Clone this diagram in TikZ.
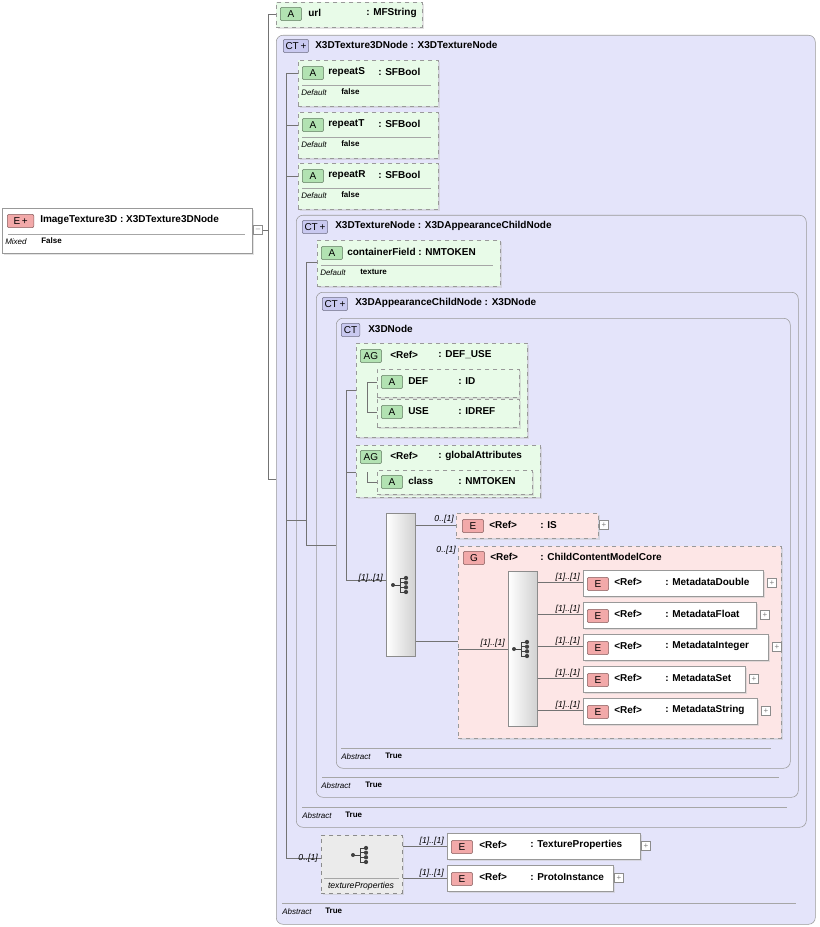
\documentclass[tikz,border=0pt]{standalone}
\usepackage{fontspec}
\setmainfont{Liberation Sans}
\usetikzlibrary{shadows}
\definecolor{attrfill}{HTML}{E8FBE8}
\definecolor{attrbadge}{HTML}{B2E2B2}
\definecolor{elemfill}{HTML}{FDE6E6}
\definecolor{elembadge}{HTML}{F2A9A9}
\definecolor{ctfill}{HTML}{E4E4FA}
\definecolor{ctbadge}{HTML}{C9C9F0}
\tikzset{
  every node/.style={font=\fontsize{7.5}{9}\selectfont\bfseries, inner sep=0pt},
  shade/.style={drop shadow={shadow xshift=1.5pt, shadow yshift=-1.5pt, fill=black!22}},
  attrbox/.style={fill=attrfill, draw=black!40, dashed, shade},
  elembox/.style={fill=elemfill, draw=black!40, shade},
  elemdash/.style={fill=elemfill, draw=black!40, dashed, shade},
  ctbox/.style={fill=ctfill, draw=black!40, rounded corners=5pt},
  seqbox/.style={left color=white, right color=black!18, draw=black!45},
  badge/.style={draw=#1!55!black, fill=#1, minimum height=10pt, rounded corners=1.5pt,
    anchor=west, font=\fontsize{7.5}{9}\selectfont},
  link/.style={draw=black!55, line width=0.5pt},
  card/.style={font=\fontsize{6.5}{8}\selectfont\itshape, anchor=east},
  small/.style={font=\fontsize{6}{7}\selectfont\itshape, anchor=west},
  tag/.style={anchor=west},
  plus/.style={draw=black!45, fill=white, minimum size=6.5pt, font=\fontsize{6}{6}\selectfont\mdseries, text=black!50}
}
\newcommand\pbox[6]{\node[#1, anchor=north west, minimum width={(#4-#2)*0.75pt},
  minimum height={(#5-#3)*0.75pt}] (#6) at (#2,#3) {};}
\newcommand\seqicon[2]{%
  \fill[black!75] (#1-8,#2) circle (1.5pt);
  \draw[black!75, line width=0.7pt] (#1-8,#2) -- (#1-1,#2) (#1-1,#2-7) -- (#1-1,#2+7);
  \foreach \d in {-7,-2.3,2.3,7} {
    \draw[black!75, line width=0.7pt] (#1-1,#2+\d) -- (#1+5,#2+\d);
    \fill[black!75] (#1+5,#2+\d) circle (1.6pt);}}
\begin{document}
\begin{tikzpicture}[x=0.75pt, y=-0.75pt]
\useasboundingbox (0,0) rectangle (819,927);

% main element
\pbox{elembox, fill=white}{2}{208}{252}{253}{img}
\node[badge=elembadge, minimum width=20pt] (imgB) at (7,221) {E\,+};
\node[tag] (imgT) at (40,220) {ImageTexture3D : X3DTexture3DNode};
\draw[black!35] (8,234) -- (245,234);
\node[small] (imgM) at (5,242) {Mixed};
\node[tag, font=\fontsize{6}{7}\selectfont\bfseries] (imgF) at (41,241) {False};
\node[plus] (imgC) at (258,230) {--};

% url attribute
\pbox{attrbox}{276}{2}{422}{27}{url}
\node[badge=attrbadge, minimum width=16pt] (urlB) at (280,14) {A};
\node[tag] (urlT) at (308,13) {url};
\node[tag] (urlY) at (366,13) {: MFString};

% X3DTexture3DNode
\pbox{ctbox}{276}{35}{815}{924}{ct3d}
\node[badge=ctbadge, minimum width=19pt] (ct3dB) at (283,46) {CT\,+};
\node[tag] (ct3dT) at (315,45) {X3DTexture3DNode : X3DTextureNode};
\draw[black!35] (282,903) -- (796,903);
\node[small] (ct3dA) at (282,912) {Abstract};
\node[tag, font=\fontsize{6}{7}\selectfont\bfseries] (ct3dV) at (325,911) {True};

\draw[link] (imgC.east) -- (268,230);
\draw[link] (url.west |- 0,14) -| (268,479) -- (ct3d.west |- 0,479);

% repeat attributes
\foreach \nm/\y in {S/60,T/112,R/163}{
  \pbox{attrbox}{298}{\y}{438}{\y+46}{rep\nm}
  \node[badge=attrbadge, minimum width=16pt] (rep\nm B) at (302,\y+13) {A};
  \node[tag] (rep\nm T) at (328,\y+12) {repeat\nm};
  \node[tag] (rep\nm Y) at (378,\y+12) {: SFBool};
  \draw[black!35] (302,\y+25) -- (431,\y+25);
  \node[small] (rep\nm D) at (301,\y+33) {Default};
  \node[tag, font=\fontsize{6}{7}\selectfont\bfseries] (rep\nm V) at (341,\y+32) {false};
  \draw[link] (286,\y+13) -- (rep\nm.west |- 0,\y+13);
}
\draw[link] (286,73) -- (286,858);

% X3DTextureNode
\pbox{ctbox}{296}{215}{806}{827}{tex}
\node[badge=ctbadge, minimum width=19pt] (texB) at (302,227) {CT\,+};
\node[tag] (texT) at (335,226) {X3DTextureNode : X3DAppearanceChildNode};
\draw[black!35] (302,807) -- (787,807);
\node[small] (texA) at (302,816) {Abstract};
\node[tag, font=\fontsize{6}{7}\selectfont\bfseries] (texV) at (345,815) {True};
\draw[link] (286,520) -- (tex.west |- 0,520);

\pbox{attrbox}{317}{240}{500}{286}{cf}
\node[badge=attrbadge, minimum width=16pt] (cfB) at (321,253) {A};
\node[tag] (cfT) at (347,252) {containerField : NMTOKEN};
\draw[black!35] (321,265) -- (493,265);
\node[small] (cfD) at (320,273) {Default};
\node[tag, font=\fontsize{6}{7}\selectfont\bfseries] (cfV) at (360,272) {texture};

% X3DAppearanceChildNode
\pbox{ctbox}{316}{292}{798}{797}{app}
\node[badge=ctbadge, minimum width=19pt] (appB) at (322,304) {CT\,+};
\node[tag] (appT) at (355,303) {X3DAppearanceChildNode : X3DNode};
\draw[black!35] (322,777) -- (779,777);
\node[small] (appA) at (321,786) {Abstract};
\node[tag, font=\fontsize{6}{7}\selectfont\bfseries] (appV) at (365,785) {True};
\draw[link] (tex.west |- 0,520) -- (306,520) -- (306,262) -- (cf.west |- 0,262);
\draw[link] (306,520) -- (306,545) -- (app.west |- 0,545);

% X3DNode
\pbox{ctbox}{336}{318}{790}{768}{node}
\node[badge=ctbadge, minimum width=14pt] (nodeB) at (341,330) {CT};
\node[tag] (nodeT) at (368,329) {X3DNode};
\draw[black!35] (341,748) -- (771,748);
\node[small] (nodeA) at (341,757) {Abstract};
\node[tag, font=\fontsize{6}{7}\selectfont\bfseries] (nodeV) at (385,756) {True};
\draw[link] (app.west |- 0,545) -- (node.west |- 0,545);

% attribute groups
\pbox{attrbox}{356}{343}{527}{437}{du}
\node[badge=attrbadge, minimum width=16pt] (duB) at (360,356) {AG};
\node[tag] (duR) at (390,355) {<Ref>};
\node[tag] (duT) at (438,355) {: DEF\_USE};
\foreach \nm/\t/\y in {def/DEF/369,use/USE/399}{
  \pbox{attrbox}{377}{\y}{519}{\y+28}{\nm}
  \node[badge=attrbadge, minimum width=16pt] (\nm B) at (381,\y+13) {A};
  \node[tag] (\nm T) at (408,\y+12) {\t};
  \draw[link] (367,\y+13) -- (\nm.west |- 0,\y+13);
}
\node[tag] (defY) at (458,381) {: ID};
\node[tag] (useY) at (458,411) {: IDREF};
\draw[link] (367,382) -- (367,412);

\pbox{attrbox}{356}{445}{540}{497}{ga}
\node[badge=attrbadge, minimum width=16pt] (gaB) at (360,457) {AG};
\node[tag] (gaR) at (390,456) {<Ref>};
\node[tag] (gaT) at (438,456) {: globalAttributes};
\pbox{attrbox}{377}{470}{532}{494}{cls}
\node[badge=attrbadge, minimum width=16pt] (clsB) at (381,482) {A};
\node[tag] (clsT) at (408,481) {class};
\node[tag] (clsY) at (458,481) {: NMTOKEN};
\draw[link] (367,482) -- (cls.west |- 0,482);
\draw[link] (367,472) -- (367,482);

% sequence in X3DNode
\pbox{seqbox}{386}{513}{415}{656}{seq}
\seqicon{401}{585}
\draw[link] (346,390) -- (du.west |- 0,390);
\draw[link] (346,472) -- (ga.west |- 0,472);
\draw[link] (346,390) -- (346,580) -- (seq.west |- 0,580);
\node[card] (seqC) at (383,578) {[1]..[1]};

\pbox{elemdash}{456}{513}{598}{538}{is}
\node[badge=elembadge, minimum width=16pt] (isB) at (462,526) {E};
\node[tag] (isR) at (489,525) {<Ref>};
\node[tag] (isT) at (540,525) {: IS};
\node[plus] (isP) at (604,525) {+};
\draw[link] (seq.east |- 0,525) -- (is.west |- 0,525);
\node[card] (isC) at (454,519) {0..[1]};

% group
\pbox{elemdash}{458}{546}{781}{738}{grp}
\node[badge=elembadge, minimum width=16pt] (grpB) at (463,558) {G};
\node[tag] (grpR) at (490,557) {<Ref>};
\node[tag] (grpT) at (540,557) {: ChildContentModelCore};
\node[card] (grpC) at (456,550) {0..[1]};
\draw[link] (seq.east |- 0,641) -- (grp.west |- 0,641);

\pbox{seqbox}{508}{571}{537}{726}{gseq}
\seqicon{522}{649}
\draw[link] (grp.west |- 0,649) -- (gseq.west |- 0,649);
\node[card] (gseqC) at (505,643) {[1]..[1]};

\foreach \nm/\y/\r in {MetadataDouble/570/763,MetadataFloat/602/756,MetadataInteger/634/768,MetadataSet/666/745,MetadataString/698/757}{
  \pbox{elembox, fill=white}{583}{\y}{\r}{\y+26}{\nm}
  \node[badge=elembadge, minimum width=16pt] (\nm B) at (587,\y+14) {E};
  \node[tag] (\nm R) at (614,\y+12) {<Ref>};
  \node[tag] (\nm T) at (665,\y+12) {: \nm};
  \node[plus] (\nm P) at (\r+9,\y+13) {+};
  \draw[link] (gseq.east |- 0,\y+12) -- (\nm.west |- 0,\y+12);
  \node[card] (\nm C) at (580,\y+7) {[1]..[1]};
}

% textureProperties sequence
\pbox{seqbox, dashed, left color=black!8, right color=black!8, shade}{321}{835}{402}{893}{tp}
\seqicon{361}{855}
\draw[black!35] (324,878) -- (399,878);
\node[small, anchor=center, font=\fontsize{6.5}{8}\selectfont\itshape\mdseries] (tpL) at (361,886) {textureProperties};
\draw[link] (286,858) -- (tp.west |- 0,858);
\node[card] (tpC) at (318,858) {0..[1]};

\foreach \nm/\y/\r in {TextureProperties/833/640,ProtoInstance/865/613}{
  \pbox{elembox, fill=white}{447}{\y}{\r}{\y+26}{\nm}
  \node[badge=elembadge, minimum width=16pt] (\nm B) at (451,\y+14) {E};
  \node[tag] (\nm R) at (479,\y+12) {<Ref>};
  \node[tag] (\nm T) at (530,\y+12) {: \nm};
  \node[plus] (\nm P) at (\r+6,\y+13) {+};
  \draw[link] (tp.east |- 0,\y+13) -- (\nm.west |- 0,\y+13);
  \node[card] (\nm C) at (444,\y+8) {[1]..[1]};
}
\end{tikzpicture}
\end{document}
